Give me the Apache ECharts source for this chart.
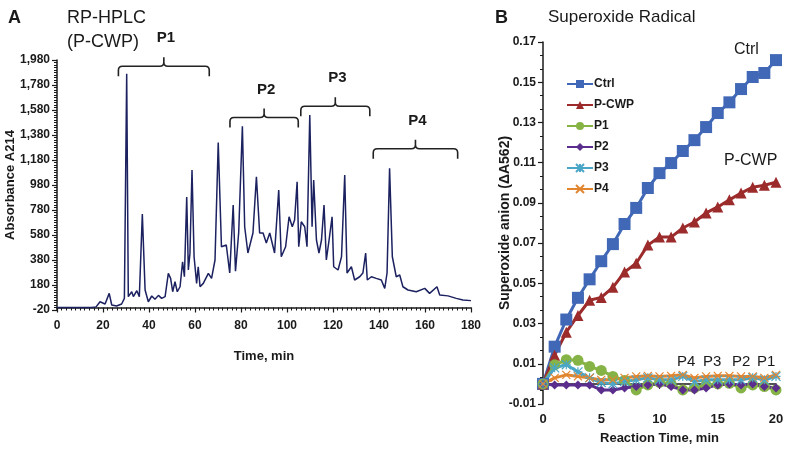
<!DOCTYPE html>
<html lang="en">
<head>
    <meta charset="UTF-8">
    <script src="https://cdn.jsdelivr.net/npm/echarts@6/dist/echarts.min.js"></script>
    <title>RP-HPLC and Superoxide Radical</title>
</head>
<body style="margin:0;background:#fff;">
<div id="main" style="width:787px;height:450px;"></div>
<script type="text/javascript">
    // panel A: chromatogram, time (min) and absorbance
    var hplcTime = [0, 5, 10, 15, 17, 18.7, 20.9, 22.7, 23.8, 25.9, 28.1, 29.3, 30.3, 31.0, 32.5, 33.2, 34.7, 35.8,
        37.1, 38.3, 39.7, 41.2, 42.6, 44.1, 45.5, 47.0, 48.4, 49.4, 50.3, 51.3, 52.3, 53.5, 54.6, 55.4, 56.4, 57.1,
        57.8, 58.7, 59.6, 60.7, 61.4, 62.2, 63.6, 65.8, 67.2, 68.7, 70.1, 71.5, 73.6, 75.1, 76.6, 77.6, 79.0, 80.6,
        81.6, 83.0, 85.2, 86.7, 88.1, 89.6, 91.0, 92.5, 94.6, 96.4, 97.5, 99.4, 100.9, 102.3, 103.3, 104.4, 105.1,
        106.2, 107.7, 108.7, 109.9, 110.9, 111.6, 112.8, 113.9, 115.0, 116.1, 117.1, 118.3, 119.6, 120.3, 122.2,
        123.7, 125.1, 126.1, 128.0, 129.4, 131.6, 133.0, 134.2, 134.9, 136.7, 138.8, 141.0, 142.5, 143.5, 144.6,
        145.8, 147.5, 149.0, 150.4, 152.6, 156.2, 159.9, 162.0, 165.2, 166.4, 170.0, 173.6, 176.5, 180];
    var hplcAbs = [0, 0, 0, 0, 5, 46, 28, 113, 20, 12, 28, 73, 1870, 87, 126, 87, 134, 87,
        748, 140, 46, 92, 66, 97, 73, 87, 273, 233, 126, 206, 126, 166, 366, 246, 884, 300,
        433, 1100, 406, 193, 326, 166, 193, 273, 233, 380, 1320, 486, 500, 276, 820, 290, 600, 1450,
        646, 436, 596, 1046, 596, 596, 516, 596, 436, 940, 406, 486, 726, 646, 700, 1006, 486,
        686, 646, 486, 1540, 646, 1020, 540, 436, 540, 820, 380, 540, 726, 326, 300,
        406, 1060, 276, 326, 220, 246, 276, 436, 220, 246, 233, 220, 153, 276, 1113,
        406, 246, 260, 166, 140, 126, 153, 113, 166, 100, 93, 73, 60, 55];

    // fraction brackets: name, start min, end min, absorbance level
    var fractionNames = ['P1', 'P2', 'P3', 'P4'];
    var fractionFrom = [26.7, 75.2, 106, 137.5];
    var fractionTo = [66.2, 104.9, 136, 174.2];
    var fractionLevel = [1930, 1520, 1610, 1270];

    // panel B: reaction time 0..20 min
    var reactTime = [0, 1, 2, 3, 4, 5, 6, 7, 8, 9, 10, 11, 12, 13, 14, 15, 16, 17, 18, 19, 20];
    var ctrl = [0, 0.0185, 0.032, 0.0428, 0.052, 0.061, 0.0695, 0.0795, 0.0875, 0.0974, 0.1048,
        0.1098, 0.1158, 0.1212, 0.1277, 0.1347, 0.140, 0.1466, 0.1526, 0.1546, 0.161];
    var pcwp = [0, 0.0143, 0.0257, 0.034, 0.0416, 0.043, 0.048, 0.0556, 0.060, 0.069, 0.073,
        0.073, 0.0775, 0.0805, 0.085, 0.088, 0.0915, 0.0949, 0.0978, 0.0988, 0.1003];
    var p1 = [0, 0.0095, 0.012, 0.0117, 0.0087, 0.0067, 0.0037, 0.0017, -0.003, -0.0005, 0.0007,
        0, -0.003, -0.002, -0.0005, 0, 0.0003, -0.002, -0.0005, -0.0013, -0.003];
    var p2 = [0, -0.0005, -0.0005, -0.0005, -0.0005, -0.003, -0.003, -0.002, -0.0013, -0.0005, 0,
        -0.0013, -0.003, -0.003, -0.002, -0.0005, 0, -0.0005, 0, -0.0013, -0.002];
    var p3 = [0, 0.008, 0.0095, 0.006, 0.003, 0.0007, 0, 0.0012, 0.002, 0.003, 0.002,
        0.002, 0.0037, 0.0012, 0.002, 0.002, 0.002, 0.002, 0.003, 0.002, 0.0037];
    var p4 = [0, 0.003, 0.0045, 0.0037, 0.003, 0.002, 0.002, 0.003, 0.0037, 0.004, 0.0037,
        0.004, 0.0045, 0.003, 0.0037, 0.004, 0.004, 0.0037, 0.0037, 0.003, 0.0045];

    var font = 'Liberation Sans, Arial, Helvetica, sans-serif';
    var dark = '#1a1a1a';

    function pairs(xs, ys) {
        var out = [];
        for (var i = 0; i < xs.length; i++) out.push([xs[i], ys[i]]);
        return out;
    }
    function thousands(v) {
        return String(v).replace(/\B(?=(\d{3})+(?!\d))/g, ',');
    }

    var bracketData = [];
    for (var i = 0; i < fractionNames.length; i++) {
        bracketData.push([fractionFrom[i], fractionTo[i], fractionLevel[i], fractionNames[i]]);
    }

    var myChart = echarts.init(document.getElementById('main'));

    var axisCommonA = {
        axisLine: {lineStyle: {color: dark, width: 1.5}},
        axisTick: {lineStyle: {color: dark, width: 1.2}, length: 5},
        minorTick: {show: true, lineStyle: {color: dark, width: 1}, length: 3},
        splitLine: {show: false},
        nameMoveOverlap: false,
        axisLabel: {color: dark, fontFamily: font, fontWeight: 'bold', fontSize: 12},
        nameTextStyle: {color: dark, fontFamily: font, fontWeight: 'bold', fontSize: 13}
    };

    function lineSeries(name, data, color, symbol, size, extra) {
        var s = {
            name: name,
            type: 'line',
            xAxisIndex: 1,
            yAxisIndex: 1,
            data: pairs(reactTime, data),
            symbol: symbol,
            symbolSize: size,
            showAllSymbol: true,
            lineStyle: {color: color, width: 3},
            itemStyle: {color: color},
            animation: false
        };
        if (extra) s.itemStyle = extra;
        return s;
    }

    var asterisk = 'path://M0,-10 L0,10 M-10,-10 L10,10 M-10,10 L10,-10 M-10,0 L10,0';
    var cross = 'path://M-10,-10 L10,10 M-10,10 L10,-10';

    var option = {
        animation: false,
        textStyle: {fontFamily: font},
        title: [
            {text: 'A', left: 3, top: 4, textStyle: {fontSize: 18, fontWeight: 'bold', color: dark, fontFamily: font}},
            {text: 'RP-HPLC', left: 62, top: 4, textStyle: {fontSize: 18, fontWeight: 'normal', color: dark, fontFamily: font}},
            {text: '(P-CWP)', left: 62, top: 28, textStyle: {fontSize: 18, fontWeight: 'normal', color: dark, fontFamily: font}},
            {text: 'B', left: 490, top: 4, textStyle: {fontSize: 18, fontWeight: 'bold', color: dark, fontFamily: font}},
            {text: 'Superoxide Radical', left: 543, top: 4, textStyle: {fontSize: 17, fontWeight: 'normal', color: dark, fontFamily: font}}
        ],
        legend: {
            orient: 'vertical',
            left: 561,
            top: 73,
            itemWidth: 26,
            itemHeight: 10,
            itemGap: 9,
            data: ['Ctrl', 'P-CWP', 'P1', 'P2', 'P3', 'P4'],
            textStyle: {color: dark, fontFamily: font, fontWeight: 'bold', fontSize: 12, padding: [0, 0, 0, -4]}
        },
        grid: [
            {left: 57, top: 60, width: 414, height: 250, outerBoundsMode: 'none'},
            {left: 543, top: 42, width: 233, height: 362, outerBoundsMode: 'none'}
        ],
        xAxis: [
            Object.assign({}, axisCommonA, {
                gridIndex: 0, type: 'value', min: 0, max: 180, interval: 20,
                name: 'Time, min', nameLocation: 'middle', nameGap: 40,
                minorTick: {show: true, splitNumber: 10, lineStyle: {color: dark, width: 1}, length: 3},
                axisLabel: Object.assign({}, axisCommonA.axisLabel, {margin: 10})
            }),
            Object.assign({}, axisCommonA, {
                gridIndex: 1, type: 'value', min: 0, max: 20, interval: 5,
                name: 'Reaction Time, min', nameLocation: 'middle', nameGap: 28,
                minorTick: {show: false},
                axisLabel: Object.assign({}, axisCommonA.axisLabel, {fontSize: 13, margin: 9})
            })
        ],
        yAxis: [
            Object.assign({}, axisCommonA, {
                gridIndex: 0, type: 'value', min: -20, max: 1980, interval: 200,
                name: 'Absorbance A214', nameLocation: 'middle', nameGap: 40,
                minorTick: {show: true, splitNumber: 10, lineStyle: {color: dark, width: 1}, length: 3},
                axisLabel: Object.assign({}, axisCommonA.axisLabel, {formatter: thousands, margin: 7})
            }),
            Object.assign({}, axisCommonA, {
                gridIndex: 1, type: 'value', min: -0.01, max: 0.17, interval: 0.02,
                name: 'Superoxide anion (\u0394A562)', nameLocation: 'middle', nameGap: 31,
                nameTextStyle: {color: dark, fontFamily: font, fontWeight: 'bold', fontSize: 14},
                minorTick: {show: true, splitNumber: 3, lineStyle: {color: dark, width: 1}, length: 3},
                axisLabel: Object.assign({}, axisCommonA.axisLabel, {
                    margin: 7,
                    formatter: function (v) { return v.toFixed(2); }
                })
            })
        ],
        series: [
            {
                name: 'HPLC',
                type: 'line',
                xAxisIndex: 0,
                yAxisIndex: 0,
                data: pairs(hplcTime, hplcAbs),
                symbol: 'none',
                lineStyle: {color: '#1c2160', width: 1.5},
                z: 3
            },
            {
                name: 'fractions',
                type: 'custom',
                xAxisIndex: 0,
                yAxisIndex: 0,
                data: bracketData,
                clip: false,
                silent: true,
                renderItem: function (params, api) {
                    var a = api.coord([api.value(0), api.value(2)]);
                    var b = api.coord([api.value(1), api.value(2)]);
                    var y = a[1], x1 = a[0], x2 = b[0], xm = (x1 + x2) / 2;
                    var h = 10, r = 4, t = 9;
                    var d = 'M' + x1 + ',' + (y + h) + ' L' + x1 + ',' + (y + r) +
                        ' Q' + x1 + ',' + y + ' ' + (x1 + r) + ',' + y +
                        ' L' + (xm - r) + ',' + y + ' Q' + xm + ',' + y + ' ' + xm + ',' + (y - r) +
                        ' L' + xm + ',' + (y - t) +
                        ' M' + xm + ',' + (y - r) + ' Q' + xm + ',' + y + ' ' + (xm + r) + ',' + y +
                        ' L' + (x2 - r) + ',' + y + ' Q' + x2 + ',' + y + ' ' + x2 + ',' + (y + r) +
                        ' L' + x2 + ',' + (y + h);
                    return {
                        type: 'group',
                        children: [
                            {type: 'path', shape: {pathData: d}, style: {fill: null, stroke: '#222', lineWidth: 1.6}},
                            {
                                type: 'text',
                                style: {
                                    text: bracketData[params.dataIndex][3],
                                    x: xm + 2, y: y - 28,
                                    align: 'center', verticalAlign: 'middle',
                                    fill: dark, font: 'bold 15px ' + font
                                }
                            }
                        ]
                    };
                }
            },
            lineSeries('Ctrl', ctrl, '#4168b6', 'rect', 12),
            lineSeries('P-CWP', pcwp, '#9c2b2c', 'triangle', 11),
            lineSeries('P1', p1, '#86b346', 'circle', 11),
            lineSeries('P2', p2, '#5b2e8e', 'diamond', 9),
            lineSeries('P3', p3, '#4aa6c6', asterisk, 9, {color: '#4aa6c6', borderColor: '#4aa6c6', borderWidth: 1.2}),
            lineSeries('P4', p4, '#e2852f', cross, 8, {color: '#e2852f', borderColor: '#e2852f', borderWidth: 1.2})
        ],
        graphic: [
            {type: 'text', left: 734, top: 42, style: {text: 'Ctrl', fill: dark, font: '16px ' + font}},
            {type: 'text', left: 724, top: 153, style: {text: 'P-CWP', fill: dark, font: '16px ' + font}},
            {type: 'text', left: 677, top: 354, style: {text: 'P4', fill: dark, font: '15px ' + font}},
            {type: 'text', left: 703, top: 354, style: {text: 'P3', fill: dark, font: '15px ' + font}},
            {type: 'text', left: 732, top: 354, style: {text: 'P2', fill: dark, font: '15px ' + font}},
            {type: 'text', left: 757, top: 354, style: {text: 'P1', fill: dark, font: '15px ' + font}}
        ]
    };
    myChart.setOption(option);
</script>
</body>
</html>
